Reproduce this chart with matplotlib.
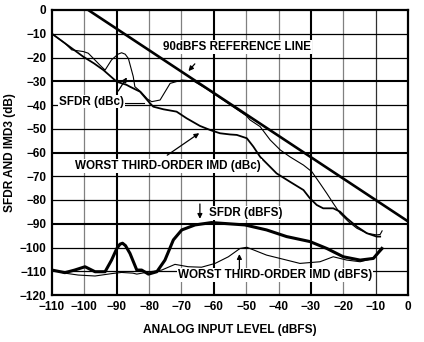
import matplotlib
matplotlib.use("Agg")
import matplotlib.pyplot as plt

plt.rcParams['font.family'] = ['Liberation Sans', 'DejaVu Sans']
plt.rcParams['font.weight'] = 'bold'

# ---- data ----
ref_x = [-98.8, 0]
ref_y = [0, -89]

sfdr_dbc_x = [-110, -106, -103.9, -100.3, -98.8, -97.2, -95.2, -93.6, -91.6, -89.6, -88.5, -87.4, -86.4,
              -84.9, -84.4, -82.5, -80.5, -79.2, -76.6, -73.5, -69.9, -66.3, -62, -58, -54, -50,
              -48.8, -45.7, -42.6, -39.5, -36.5, -32.3, -29.7, -27.2, -25.1, -23.1, -21, -18.4,
              -15.8, -12.7, -9.7, -8.6, -8]
sfdr_dbc_y = [-10, -14, -16.8, -17.5, -18.2, -20.4, -23.2, -25.3, -21, -18.6, -18, -18.6, -20.4,
              -28, -32.3, -34.5, -37.5, -38.6, -37.9, -30.9, -29.5, -29.9, -33.4, -37.1, -40.8, -44.5,
              -46.3, -49.1, -54.7, -58.9, -61.8, -65.3, -68.1, -73, -77.2, -81.4, -85.6, -89.1,
              -91.9, -94, -94.7, -94.5, -93]

imd_dbc_x = [-110, -106, -103, -100.3, -97, -94.1, -90, -87, -85.9, -82.8, -79.7, -78.7, -75.6,
             -71.5, -68.4, -64.3, -61, -58.1, -55, -52.9, -49.8, -47.8, -45.7, -43, -40.6, -36.5,
             -32.3, -30.3, -28.2, -26.2, -23.1, -21, -18.9, -15.8, -12.7, -9.7, -8.6]
imd_dbc_y = [-10, -14, -17, -19.7, -22.5, -25.3, -30.2, -31.5, -32.3, -34.4, -39.3, -40.7, -41.8,
             -42.8, -45.6, -48.8, -50.6, -51.9, -52.4, -52.6, -54, -57.5, -61.8, -65.5, -68.8, -72.3,
             -75.8, -79.3, -82.1, -83.5, -83.5, -84.9, -87.7, -91.2, -94, -95.4, -95.4]

sfdr_dbfs_x = [-110, -106, -103, -99.8, -96.7, -93.6, -91.6, -90, -89, -88.2, -87.3, -85.9, -83.8,
               -82.3, -80.2, -77.6, -75.1, -72.5, -69.9, -65.8, -60.7, -54.5, -50.4, -43.7, -37.5,
               -30.3, -25.1, -20, -14.8, -10.7, -8.1]
sfdr_dbfs_y = [-109.5, -110.6, -109.5, -108.1, -110.2, -110.2, -105.3, -100.5, -98.6, -98.2, -99.2,
               -102.5, -109.5, -109.5, -111.2, -110.2, -105.3, -96.8, -92.6, -90.5, -89.5, -90.1,
               -90.5, -92.6, -95.4, -97.5, -100.4, -103.9, -105.3, -104.6, -100.4]

imd_dbfs_x = [-110, -106, -101.9, -96.7, -91.6, -88.5, -85, -83.8, -81, -79.7, -76.1, -72, -67.9,
              -63.8, -59.6, -55.5, -51.9, -49.8, -43.7, -37.5, -33.4, -27.2, -23.1, -18.9, -14.8,
              -10.7, -7.6]
imd_dbfs_y = [-109.5, -110.8, -111.6, -112, -111, -110.5, -110.8, -111.2, -110.5, -110.2, -109.5,
              -107.1, -108.1, -108.3, -106.7, -103.9, -100.4, -99.9, -103.2, -105.3, -106.7, -106,
              -103.9, -105.3, -106, -104.6, -100.4]

x_ticks = list(range(-110, 1, 10))
y_ticks = list(range(-120, 1, 10))

# ---- figure ----
fig = plt.figure(figsize=(4.24, 3.42), dpi=100)
ax = fig.add_axes([52/424, 1-295/342, 356/424, 285/342])
ax.set_xlim(-110, 0)
ax.set_ylim(-120, 0)
ax.set_xticks(x_ticks)
ax.set_yticks(y_ticks)
ax.tick_params(length=0, labelsize=8.5, pad=4)
for lab in ax.get_xticklabels() + ax.get_yticklabels():
    lab.set_fontweight('bold')

major = (-90, -60, -30)
for xv in x_ticks[1:]:
    if xv in major:
        ax.axvline(xv, color='black', lw=1.5, zorder=1)
    elif xv == -10:
        ax.axvline(xv, color='#303030', lw=0.9, zorder=1)
    else:
        ax.axvline(xv, color='#808080', lw=0.9, zorder=1)
for yv in y_ticks[1:-1]:
    if yv in major:
        ax.axhline(yv, color='black', lw=1.5, zorder=1)
    else:
        ax.axhline(yv, color='black', lw=0.9, zorder=1)
for s in ax.spines.values():
    s.set_linewidth(1.6)

ax.plot(ref_x, ref_y, color='black', lw=1.9, zorder=3)
ax.plot(sfdr_dbc_x, sfdr_dbc_y, color='black', lw=0.8, zorder=3)
ax.plot(imd_dbc_x, imd_dbc_y, color='black', lw=1.3, zorder=3)
ax.plot(sfdr_dbfs_x, sfdr_dbfs_y, color='black', lw=2.2, zorder=3)
ax.plot(imd_dbfs_x, imd_dbfs_y, color='black', lw=0.8, zorder=3)

bb = dict(facecolor='white', edgecolor='none', pad=0.6)
tk = dict(fontsize=8.4, fontweight='bold', ha='center', va='center', zorder=5, bbox=bb)
ap = dict(arrowstyle='-|>', color='black', lw=0.9, mutation_scale=7)

ax.text(-52.8, -15.6, '90dBFS REFERENCE LINE', **tk)
ax.annotate('', xy=(-68.4, -26.6), xytext=(-65.3, -21.8), arrowprops=ap, zorder=5)

ax.text(-97.7, -38.6, 'SFDR (dBc)', **tk)
ax.annotate('', xy=(-86.4, -27.4), xytext=(-90, -35.1), arrowprops=ap, zorder=5)
ax.plot([-88, -81.5], [-39.3, -39.3], color='black', lw=0.8, zorder=4)

ax.text(-74.2, -65.7, 'WORST THIRD-ORDER IMD (dBc)', **tk)
ax.annotate('', xy=(-63.8, -51.2), xytext=(-75.1, -61.8), arrowprops=ap, zorder=5)

ax.text(-50.1, -85.6, 'SFDR (dBFS)', **tk)
ax.annotate('', xy=(-64.3, -89.1), xytext=(-64.3, -80.5), arrowprops=ap, zorder=5)

ax.text(-41.1, -111.6, 'WORST THIRD-ORDER IMD (dBFS)', **tk)
ax.annotate('', xy=(-52.1, -101.6), xytext=(-52.1, -110.3), arrowprops=ap, zorder=5)

ax.set_xlabel('ANALOG INPUT LEVEL (dBFS)', fontsize=8.6, fontweight='bold', labelpad=8)
ax.set_ylabel('SFDR AND IMD3 (dB)', fontsize=8.6, fontweight='bold', labelpad=3)

fig.savefig('out.png', dpi=100)
